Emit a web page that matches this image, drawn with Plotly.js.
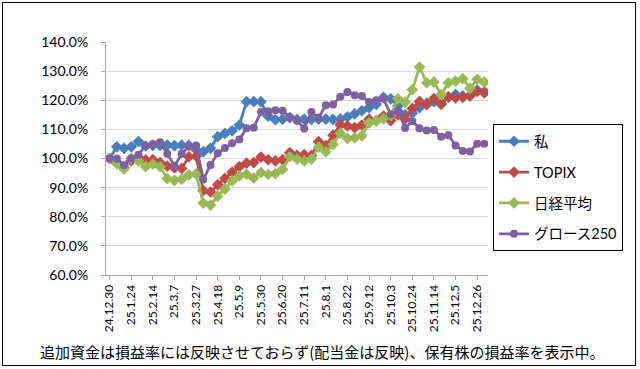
<!DOCTYPE html>
<html><head><meta charset="utf-8">
<script src="https://cdn.plot.ly/plotly-3.0.1.min.js"></script>
<style>
html,body{margin:0;padding:0;background:#fff;}
#wrap{position:relative;width:640px;height:369px;}
#chart{width:640px;height:369px;}
#frame{position:absolute;left:2px;top:2px;width:634px;height:364px;border:1px solid #000;pointer-events:none;box-sizing:border-box;}
</style></head>
<body><div id="wrap"><div id="chart"></div><div id="frame"></div></div>
<script>
const dates = ['24.12.30','25.1.10','25.1.17','25.1.24','25.1.31','25.2.7','25.2.14','25.2.21','25.2.28','25.3.7','25.3.14','25.3.21','25.3.27','25.4.4','25.4.11','25.4.18','25.4.25','25.5.2','25.5.9','25.5.16','25.5.23','25.5.30','25.6.6','25.6.13','25.6.20','25.6.27','25.7.4','25.7.11','25.7.18','25.7.25','25.8.1','25.8.8','25.8.15','25.8.22','25.8.29','25.9.5','25.9.12','25.9.19','25.9.26','25.10.3','25.10.10','25.10.17','25.10.24','25.10.31','25.11.7','25.11.14','25.11.21','25.11.28','25.12.5','25.12.12','25.12.19','25.12.26','25.12.30'];

const watashi = [100,104,103.5,104,105.8,104.3,104.5,104.5,104.6,104.4,104.6,104.5,103,102.3,103.5,107.5,108.6,109.5,111.5,119.5,119.5,119.5,114.5,113.3,113.5,114,113.4,113.5,113.4,113.5,113.5,113.4,113.6,114.3,115.3,116.4,117.5,118.6,121,120.5,118,115,115.5,117.5,119,119.5,119,121,122,121.5,121.6,123.5,123];
const topix = [100,98.5,96.8,99.3,100.4,99.5,99.6,98.6,97.4,96.8,96.6,100.6,100.8,89,88.5,91,93.2,95.3,97.2,98.4,98.6,100.5,99.6,99.2,99.6,102,101.1,101.3,101,105.8,104.4,108,111.6,111.2,110.6,111.5,113.5,113,114.6,113,115,113.6,117.2,119.6,118.5,120.6,118.6,121.2,120.8,121,121.5,123,122.5];
const nikkei = [100,98.2,96.4,100.1,99.2,97.2,98.1,97.2,93.1,92.5,92.9,94.4,94.7,84.7,84,87.1,89.5,92.3,94,94.6,93.3,95.2,94.6,94.8,96.3,100.6,99.8,99.2,99.8,103.9,102.3,104.8,108.7,106.9,107.1,107.8,112.2,112.9,113.7,114.7,120.5,119.3,123.6,131.4,126,126.3,121.9,126,126.6,127.4,124.1,127.2,126.2];
const growth = [100,100,97.7,100,101.3,104.4,105,105.6,101.6,97.4,101.6,104.2,104.5,92.8,97.8,101.8,103.6,105.2,106.5,110.4,110.6,116,116.2,116.6,116.4,114.2,113,110.3,116,114,118.3,118.5,121.2,122.8,121.7,121.5,119.4,120,120.5,115.2,116.4,110.5,112.8,110.4,109.6,109.8,107.5,108,104.5,102.6,102.4,105.1,105.1];

const names = ['私','TOPIX','日経平均','グロース250'];
const colors = ['#4A7EBB','#BE4B48','#98B954','#7D60A0'];
const symbols = ['diamond','diamond','diamond','circle'];
const series = [watashi, topix, nikkei, growth];

const tickvals = dates.filter((d,i)=>i%3===0);

const traces = series.map((s,k)=>({
  type:'scatter', mode:'lines+markers', x:dates, y:s, name:names[k],
  legendgroup:'g'+k,
  line:{color:colors[k], width:2.8},
  marker:{symbol:symbols[k], size:symbols[k]==='circle'?8:9, color:colors[k]}
}));

const L=106.4, R=488, T=41.5, B=275;
const layout = {
  width:640, height:369,
  margin:{l:L, r:640-R, t:T, b:369-B, pad:0},
  paper_bgcolor:'#fff', plot_bgcolor:'#fff',
  font:{family:'Lato, "Noto Sans CJK JP", sans-serif', size:13, color:'#000'},
  showlegend:true,
  legend:{x:(493-L)/(R-L), y:(B-124)/(B-T), xanchor:'left', yanchor:'top',
    bordercolor:'#000', borderwidth:1, bgcolor:'#fff',
    font:{family:'Lato, "Noto Sans CJK JP", sans-serif', size:14.5, color:'#000'},
    tracegroupgap:9, itemwidth:30},
  xaxis:{type:'category', range:[-0.5, dates.length-0.5], tickvals:tickvals, ticktext:tickvals,
    tickangle:-90, tickfont:{size:12, family:'Lato, sans-serif'},
    showgrid:false, showline:true, linecolor:'#A6A6A6', linewidth:1,
    ticks:'outside', ticklen:4, tickcolor:'#A6A6A6', zeroline:false, fixedrange:true},
  yaxis:{range:[60,140], dtick:10, tick0:60, tickformat:'.1f', ticksuffix:'%',
    tickfont:{size:14, family:'Lato, sans-serif'},
    ticklabelstandoff:10,
    showgrid:true, gridcolor:'#D9D9D9', gridwidth:1,
    showline:true, linecolor:'#A6A6A6', linewidth:1,
    ticks:'outside', ticklen:4, tickcolor:'#A6A6A6', zeroline:false, fixedrange:true},
  annotations:[{text:'追加資金は損益率には反映させておらず(配当金は反映)、保有株の損益率を表示中。',
    xref:'paper', yref:'paper', x:(322-L)/(R-L), y:(B-352)/(B-T), xanchor:'center', yanchor:'middle',
    showarrow:false, font:{family:'"Noto Sans CJK JP", sans-serif', size:15, color:'#000'}}]
};
Plotly.newPlot('chart', traces, layout, {staticPlot:true, displayModeBar:false});
</script></body></html>
